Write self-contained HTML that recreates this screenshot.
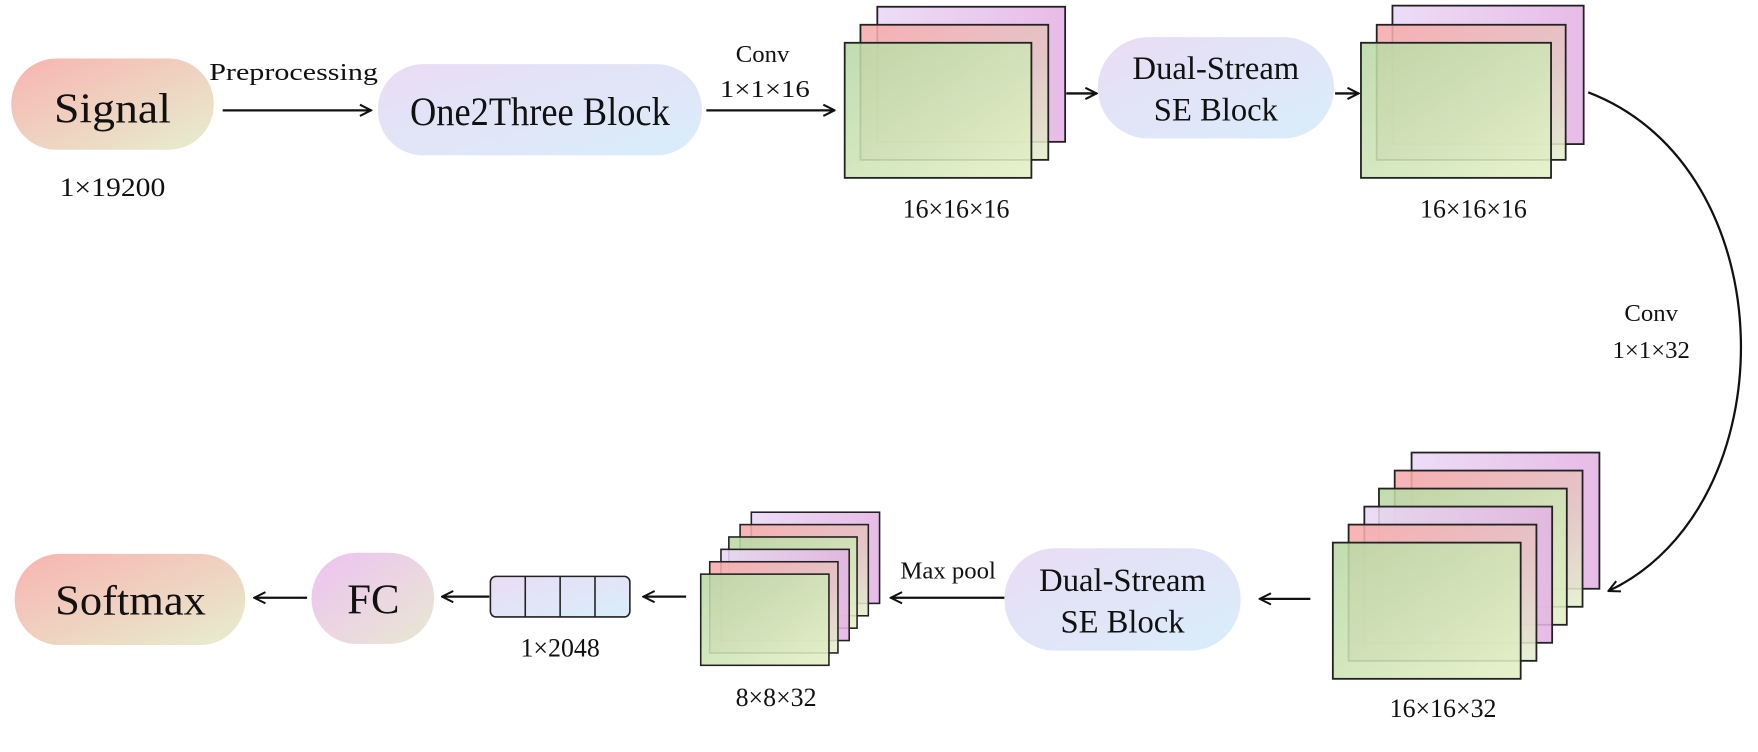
<!DOCTYPE html>
<html><head><meta charset="utf-8"><style>
html,body{margin:0;padding:0;background:#fff;}
svg{display:block;}
text{font-family:"Liberation Serif",serif;fill:#111;}
</style></head><body>
<svg width="1758" height="752" viewBox="0 0 1563 668" preserveAspectRatio="none" xmlns="http://www.w3.org/2000/svg">
<defs>
<linearGradient id="gSig" x1="0" y1="0" x2="1" y2="1"><stop offset="0" stop-color="#f8b4b0"/><stop offset="1" stop-color="#e6eed0"/></linearGradient>
<linearGradient id="gBlue" x1="0" y1="0" x2="1" y2="1"><stop offset="0" stop-color="#eadcf4"/><stop offset="1" stop-color="#d8eefa"/></linearGradient>
<linearGradient id="gFC" x1="0" y1="0" x2="1" y2="1"><stop offset="0" stop-color="#eec2f2"/><stop offset="1" stop-color="#e8e8d2"/></linearGradient>
<linearGradient id="gP" x1="0" y1="0" x2="1" y2="0"><stop offset="0" stop-color="#ead8f6"/><stop offset="1" stop-color="#e4b2e4"/></linearGradient>
<linearGradient id="gR" x1="0" y1="0" x2="1" y2="1"><stop offset="0" stop-color="#f9a8a8"/><stop offset="0.6" stop-color="#e4c6c4"/><stop offset="1" stop-color="#e4f0cc"/></linearGradient>
<linearGradient id="gG" x1="0" y1="0" x2="1" y2="1"><stop offset="0" stop-color="#b8d8a4"/><stop offset="1" stop-color="#e4f0c6"/></linearGradient>
<marker id="ar" viewBox="0 0 12 12" refX="11" refY="6" markerWidth="12" markerHeight="12" markerUnits="userSpaceOnUse" orient="auto"><path d="M1,1 L11,6 L1,11" fill="none" stroke="#111" stroke-width="1.8"/></marker>
</defs>
<g stroke="#111" stroke-width="2" fill="none" marker-end="url(#ar)">
<line x1="198" y1="98" x2="330" y2="98"/>
<line x1="628" y1="98" x2="742" y2="98"/>
<line x1="948" y1="83" x2="975" y2="83"/>
<line x1="1187" y1="83" x2="1208" y2="83"/>
<path d="M1412,82 C1590,150 1590,450 1430,525"/>
<line x1="1165" y1="532" x2="1120" y2="532"/>
<line x1="893" y1="531" x2="792" y2="531"/>
<line x1="610" y1="530" x2="572" y2="530"/>
<line x1="435" y1="530" x2="393" y2="530"/>
<line x1="273" y1="531" x2="226" y2="531"/>
</g>
<rect x="10" y="52" width="180" height="81" rx="40" fill="url(#gSig)"/>
<text x="100" y="109" font-size="38" text-anchor="middle" textLength="104" lengthAdjust="spacingAndGlyphs">Signal</text>
<text x="100" y="174" font-size="23" text-anchor="middle" textLength="94" lengthAdjust="spacingAndGlyphs">1×19200</text>
<text x="261" y="71" font-size="22" text-anchor="middle" textLength="150" lengthAdjust="spacingAndGlyphs">Preprocessing</text>
<rect x="336" y="57" width="288" height="81" rx="40" fill="url(#gBlue)"/>
<text x="480" y="111" font-size="36" text-anchor="middle" textLength="231" lengthAdjust="spacingAndGlyphs">One2Three Block</text>
<text x="678" y="55" font-size="22" text-anchor="middle">Conv</text>
<text x="680" y="86" font-size="22" text-anchor="middle" textLength="80" lengthAdjust="spacingAndGlyphs">1×1×16</text>
<g stroke="#222" stroke-width="1.6" fill-opacity="0.88">
<rect x="780" y="6" width="167" height="120" fill="url(#gP)"/>
<rect x="765" y="22" width="167" height="120" fill="url(#gR)"/>
<rect x="751" y="38" width="166" height="120" fill="url(#gG)"/>
</g>
<text x="850" y="193" font-size="23" text-anchor="middle">16×16×16</text>
<rect x="976" y="33" width="210" height="90" rx="45" fill="url(#gBlue)"/>
<text x="1081" y="70" font-size="29" text-anchor="middle">Dual-Stream</text>
<text x="1081" y="107" font-size="29" text-anchor="middle">SE Block</text>
<g stroke="#222" stroke-width="1.6" fill-opacity="0.88">
<rect x="1238" y="5" width="170" height="123" fill="url(#gP)"/>
<rect x="1224" y="22" width="168" height="120" fill="url(#gR)"/>
<rect x="1210" y="38" width="169" height="120" fill="url(#gG)"/>
</g>
<text x="1310" y="193" font-size="23" text-anchor="middle">16×16×16</text>
<text x="1468" y="285" font-size="22" text-anchor="middle">Conv</text>
<text x="1468" y="318" font-size="22" text-anchor="middle">1×1×32</text>
<g stroke="#222" stroke-width="1.6" fill-opacity="0.88">
<rect x="1255" y="402" width="167" height="121" fill="url(#gP)"/>
<rect x="1240" y="418" width="167" height="121" fill="url(#gR)"/>
<rect x="1226" y="434" width="167" height="121" fill="url(#gG)"/>
<rect x="1213" y="450" width="167" height="121" fill="url(#gP)"/>
<rect x="1199" y="466" width="167" height="121" fill="url(#gR)"/>
<rect x="1185" y="482" width="167" height="121" fill="url(#gG)"/>
</g>
<text x="1283" y="637" font-size="23" text-anchor="middle">16×16×32</text>
<rect x="893" y="487" width="210" height="91" rx="45" fill="url(#gBlue)"/>
<text x="998" y="525" font-size="29" text-anchor="middle">Dual-Stream</text>
<text x="998" y="562" font-size="29" text-anchor="middle">SE Block</text>
<text x="843" y="514" font-size="22" text-anchor="middle">Max pool</text>
<g stroke="#222" stroke-width="1.4" fill-opacity="0.88">
<rect x="668" y="455" width="114" height="81" fill="url(#gP)"/>
<rect x="658" y="466" width="114" height="81" fill="url(#gR)"/>
<rect x="648" y="477" width="114" height="81" fill="url(#gG)"/>
<rect x="641" y="488" width="114" height="81" fill="url(#gP)"/>
<rect x="631" y="499" width="114" height="81" fill="url(#gR)"/>
<rect x="623" y="510" width="114" height="81" fill="url(#gG)"/>
</g>
<text x="690" y="627" font-size="23" text-anchor="middle">8×8×32</text>
<rect x="436" y="512" width="124" height="36" rx="5" fill="url(#gBlue)" stroke="#222" stroke-width="1.4"/>
<g stroke="#222" stroke-width="1.4"><line x1="467" y1="512" x2="467" y2="548"/><line x1="498" y1="512" x2="498" y2="548"/><line x1="529" y1="512" x2="529" y2="548"/></g>
<text x="498" y="583" font-size="23" text-anchor="middle">1×2048</text>
<rect x="277" y="491" width="109" height="81" rx="40" fill="url(#gFC)"/>
<text x="332" y="545" font-size="38" text-anchor="middle">FC</text>
<rect x="13" y="492" width="205" height="81" rx="40" fill="url(#gSig)"/>
<text x="116" y="546" font-size="38" text-anchor="middle" textLength="134" lengthAdjust="spacingAndGlyphs">Softmax</text>
</svg>
</body></html>
